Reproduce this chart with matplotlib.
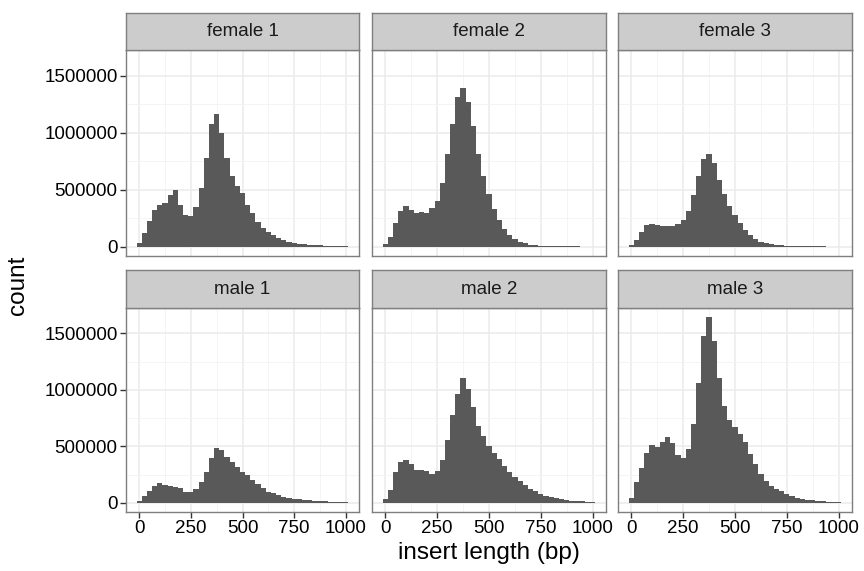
import numpy as np
import matplotlib
matplotlib.use("Agg")
import matplotlib.pyplot as plt
from matplotlib.ticker import MultipleLocator

plt.rcParams['font.family'] = ['Liberation Sans', 'DejaVu Sans']

# bin centres (binwidth 25)
bins = list(range(0, 1001, 25))

female_1 = [32000, 120000, 222000, 318000, 364000, 379000, 452000, 501000, 364000, 277000,
            268000, 344000, 513000, 781000, 1079000, 1166000, 1000000, 781000, 624000, 536000,
            472000, 367000, 297000, 219000, 166000, 128000, 99000, 76000, 61000, 44000,
            35000, 26000, 20000, 15000, 12000, 10000, 8000, 6000, 5000, 4000, 3000]
female_2 = [20000, 87000, 204000, 315000, 353000, 318000, 292000, 300000, 292000, 335000,
            402000, 554000, 810000, 1079000, 1312000, 1393000, 1271000, 1055000, 810000, 624000,
            458000, 326000, 230000, 152000, 99000, 64000, 41000, 29000, 17000, 12000,
            9000, 6000, 4000, 3000, 3000, 2000, 2000, 2000, 1000, 1000, 1000]
female_3 = [12000, 55000, 128000, 190000, 198000, 187000, 178000, 178000, 178000, 198000,
            233000, 309000, 452000, 618000, 767000, 816000, 735000, 589000, 458000, 356000,
            274000, 210000, 146000, 99000, 64000, 44000, 29000, 20000, 15000, 10000,
            8000, 5000, 4000, 3000, 3000, 2000, 2000, 2000, 1000, 1000, 1000]
male_1 = [15000, 56000, 108000, 152000, 172000, 155000, 146000, 143000, 129000, 99000,
          99000, 126000, 187000, 272000, 395000, 482000, 465000, 406000, 357000, 316000,
          275000, 243000, 205000, 170000, 132000, 99000, 82000, 67000, 53000, 44000,
          35000, 29000, 23000, 20000, 17000, 15000, 12000, 9000, 7000, 5000, 4000]
male_2 = [29000, 117000, 269000, 357000, 380000, 342000, 292000, 287000, 278000, 257000,
          281000, 380000, 553000, 775000, 962000, 1108000, 1009000, 845000, 684000, 588000,
          506000, 444000, 386000, 322000, 269000, 231000, 190000, 155000, 126000, 102000,
          79000, 61000, 50000, 38000, 29000, 23000, 18000, 15000, 12000, 9000, 4000]
male_3 = [38000, 181000, 310000, 441000, 512000, 494000, 538000, 582000, 526000, 424000,
          395000, 474000, 696000, 1061000, 1476000, 1643000, 1430000, 1105000, 860000, 737000,
          670000, 608000, 535000, 433000, 345000, 257000, 196000, 152000, 123000, 105000,
          79000, 58000, 44000, 32000, 26000, 20000, 15000, 12000, 9000, 6000, 3000]

panels = ["female 1", "female 2", "female 3", "male 1", "male 2", "male 3"]
series = [female_1, female_2, female_3, male_1, male_2, male_3]

W, H = 864, 571
fig = plt.figure(figsize=(W / 100, H / 100), dpi=100)

cols = [(126, 359), (372, 606), (618, 852)]
rows = [(13, 50, 256), (270, 308, 512)]  # strip top, panel top, panel bottom

ymax = max(max(s) for s in series)
ylim = (-0.05 * ymax, 1.05 * ymax)
xlim = (-12.5 - 51.25, 1012.5 + 51.25)

for i, (name, vals) in enumerate(zip(panels, series)):
    r, c = divmod(i, 3)
    x0, x1 = cols[c]
    st, pt, pb = rows[r]
    ax = fig.add_axes([x0 / W, 1 - pb / H, (x1 - x0) / W, (pb - pt) / H])
    ax.bar(bins, vals, width=25, color="#595959", linewidth=0, zorder=3)
    ax.set_xlim(xlim)
    ax.set_ylim(ylim)
    ax.xaxis.set_major_locator(MultipleLocator(250))
    ax.xaxis.set_minor_locator(MultipleLocator(125))
    ax.yaxis.set_major_locator(MultipleLocator(500000))
    ax.yaxis.set_minor_locator(MultipleLocator(250000))
    ax.grid(which="major", color="#EBEBEB", linewidth=1.1, zorder=0)
    ax.grid(which="minor", color="#F2F2F2", linewidth=0.6, zorder=0)
    ax.tick_params(which="minor", length=0)
    ax.tick_params(which="major", length=4, width=1, color="#333333",
                   labelsize=13.5, labelcolor="black", pad=2)
    for sp in ax.spines.values():
        sp.set_color("#7F7F7F")
        sp.set_linewidth(1)
    if c != 0:
        ax.tick_params(axis="y", left=False, labelleft=False)
    else:
        ax.set_yticklabels([f"{int(t)}" for t in ax.get_yticks()])
    if r == 0:
        ax.tick_params(axis="x", bottom=False, labelbottom=False)

    sax = fig.add_axes([x0 / W, 1 - pt / H, (x1 - x0) / W, (pt - st) / H])
    sax.set_facecolor("#CCCCCC")
    sax.set_xticks([])
    sax.set_yticks([])
    for sp in sax.spines.values():
        sp.set_color("#7F7F7F")
        sp.set_linewidth(1)
    sax.text(0.5, 0.5, name, ha="center", va="center", fontsize=13.5,
             color="#1A1A1A", transform=sax.transAxes)

fig.text(489 / W, 1 - 553 / H, "insert length (bp)", ha="center", va="center", fontsize=17.5)
fig.text(18 / W, 1 - 285 / H, "count", ha="center", va="center", fontsize=17.5, rotation=90)

fig.savefig("out.png", dpi=100, facecolor="white")
